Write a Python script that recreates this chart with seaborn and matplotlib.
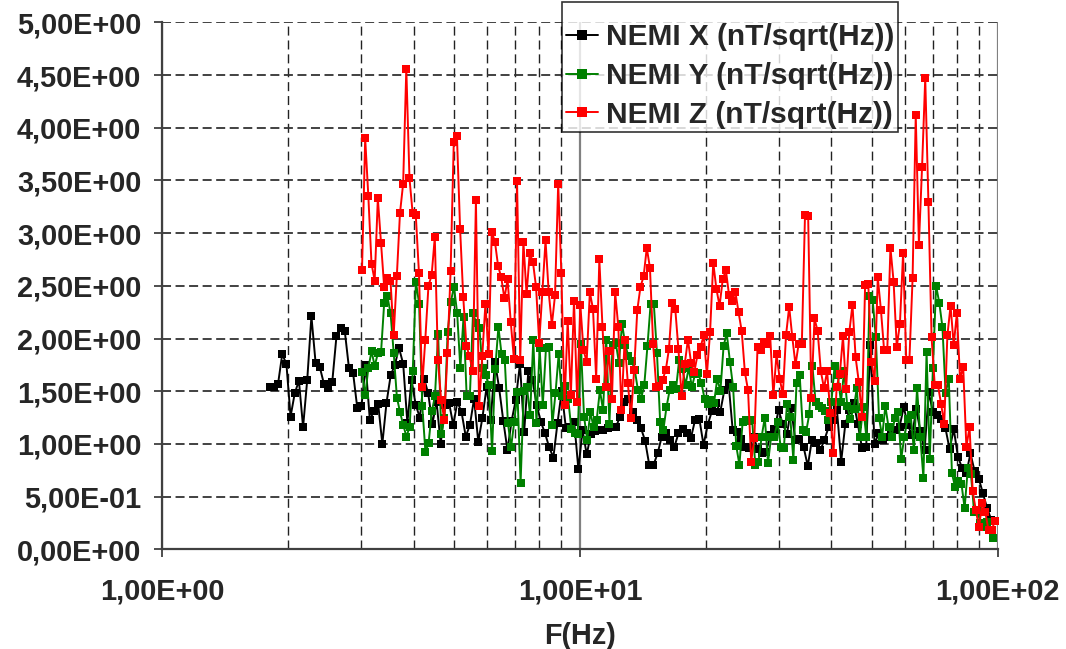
import numpy as np
import pandas as pd
import matplotlib
matplotlib.use('Agg')
import matplotlib.pyplot as plt
from matplotlib.ticker import FixedLocator, NullFormatter
import seaborn as sns

# NEMI values (nT/sqrt(Hz)), samples are evenly spaced in log(f)
nemi_x = [
    1.54, 1.54, 1.57, 1.85, 1.76, 1.26, 1.48, 1.60, 1.16, 1.61,
    2.21, 1.77, 1.73, 1.57, 1.53, 1.59, 2.02, 2.10, 2.07, 1.72,
    1.67, 1.34, 1.36, 1.75, 1.23, 1.31, 1.38, 1.00, 1.39, 1.65,
    1.75, 1.91, 1.76, 1.20, 1.61, 1.37, 1.25, 1.62, 1.48, 1.19,
    1.40, 1.00, 1.37, 1.39, 1.18, 1.40, 1.30, 1.07, 1.18, 1.43,
    1.02, 1.25, 1.54, 1.23, 1.78, 1.53, 1.22, 0.94, 1.22, 1.42,
    1.76, 1.11, 1.69, 1.61, 1.37, 1.21, 1.10, 0.97, 0.87, 1.20,
    1.50, 1.15, 1.16, 1.21, 0.76, 1.13, 0.90, 1.09, 1.12, 1.13,
    1.13, 1.15, 1.16, 1.16, 1.26, 1.40, 1.43, 1.30, 1.23, 1.15,
    1.03, 0.80, 0.80, 0.91, 1.07, 1.10, 1.04, 0.97, 1.10, 1.14,
    1.10, 1.06, 1.23, 1.24, 0.99, 1.18, 1.31, 1.39, 1.30, 1.51,
    1.58, 1.13, 1.11, 1.05, 0.97, 0.96, 1.07, 0.95, 0.91, 0.92,
    1.08, 1.14, 1.32, 1.19, 1.09, 1.34, 1.04, 1.05, 0.97, 0.79,
    1.04, 1.01, 0.94, 1.04, 1.16, 1.23, 1.32, 0.83, 1.19, 1.32,
    1.39, 1.19, 0.96, 0.97, 1.94, 1.00, 1.10, 1.04, 1.07, 1.10,
    1.13, 1.16, 1.35, 1.18, 1.08, 1.33, 1.12, 0.94, 1.49, 1.30,
    1.27, 1.24, 1.15, 0.95, 1.14, 0.88, 0.77, 0.72, 0.91, 0.74,
    0.67, 0.53, 0.39, 0.28,
]
nemi_y = [
    1.68, 1.46, 1.72, 1.88, 1.74, 1.86, 1.87, 2.34, 2.40, 2.24,
    1.86, 1.44, 1.30, 1.18, 1.07, 1.16, 1.69, 2.54, 2.33, 1.36,
    0.92, 1.01, 1.31, 1.45, 2.04, 1.09, 1.25, 2.06, 2.35, 2.49,
    2.24, 1.72, 2.20, 1.45, 1.45, 2.24, 2.15, 2.10, 1.72, 1.65,
    1.56, 0.93, 1.71, 2.11, 1.85, 1.80, 1.20, 0.97, 1.21, 1.49,
    0.63, 1.50, 1.54, 1.27, 1.99, 1.20, 1.91, 1.37, 1.91, 1.92,
    1.18, 1.48, 1.85, 1.45, 1.55, 1.43, 1.14, 1.10, 1.09, 1.95,
    1.26, 1.04, 1.30, 1.16, 1.23, 1.51, 1.32, 1.99, 1.19, 1.94,
    1.96, 1.77, 2.14, 1.94, 1.83, 1.79, 1.70, 1.51, 1.43, 1.56,
    1.93, 2.33, 2.33, 1.86, 1.21, 1.13, 1.35, 1.51, 1.56, 1.52,
    1.80, 1.71, 1.56, 1.72, 1.54, 1.66, 1.67, 1.58, 1.43, 1.38,
    1.42, 1.39, 1.62, 1.50, 1.93, 2.05, 1.78, 1.54, 0.98, 0.80,
    1.21, 1.23, 1.22, 1.23, 0.80, 0.83, 1.07, 1.25, 0.82, 1.07,
    1.07, 1.21, 0.97, 0.96, 1.38, 1.26, 0.85, 1.58, 1.65, 1.13,
    1.11, 1.28, 1.74, 1.40, 1.36, 1.34, 1.31, 1.23, 1.40, 1.74,
    1.65, 1.40, 1.69, 1.36, 1.24, 1.33, 1.53, 1.07, 1.35, 1.07,
    2.40, 2.37, 2.01, 1.25, 1.07, 1.36, 1.16, 1.07, 1.25, 1.30,
    0.86, 1.07, 1.24, 1.27, 0.94, 1.53, 1.07, 0.68, 1.87, 0.86,
    1.72, 2.50, 2.34, 2.11, 1.48, 1.62, 0.72, 0.59, 0.65, 0.62,
    0.39, 0.77, 0.71, 0.35, 0.37, 0.25, 0.21, 0.26, 0.18, 0.11,
]
nemi_z = [
    2.65, 3.90, 3.35, 2.71, 2.55, 3.33, 2.91, 2.49, 2.57, 2.55,
    2.03, 2.59, 3.19, 3.47, 4.56, 3.52, 3.19, 3.17, 2.62, 1.54,
    1.99, 2.50, 2.60, 2.96, 1.80, 1.42, 1.23, 1.86, 2.64, 3.86,
    3.92, 3.04, 2.39, 1.93, 1.83, 1.69, 3.31, 1.36, 1.83, 2.33,
    1.85, 3.01, 2.92, 2.69, 2.58, 2.38, 2.56, 2.16, 1.81, 3.49,
    1.80, 2.92, 2.42, 2.81, 2.73, 2.49, 1.96, 2.44, 2.93, 2.44,
    2.13, 2.41, 3.47, 2.62, 1.37, 2.17, 1.46, 2.36, 1.40, 2.32,
    1.89, 1.78, 2.44, 2.28, 1.62, 2.75, 2.11, 1.54, 1.88, 1.43,
    2.44, 2.11, 1.32, 1.99, 1.58, 1.25, 1.70, 2.27, 2.49, 2.59,
    2.86, 2.67, 1.95, 1.54, 1.55, 1.61, 1.70, 1.90, 2.34, 2.28,
    1.90, 1.45, 1.76, 1.99, 1.77, 1.68, 1.84, 1.92, 2.03, 1.66,
    2.06, 2.72, 2.47, 2.31, 2.56, 2.65, 2.41, 2.36, 2.44, 2.25,
    2.07, 1.68, 1.51, 0.83, 1.06, 1.92, 1.89, 1.97, 1.95, 2.02,
    1.46, 1.85, 1.62, 1.47, 2.03, 2.30, 2.01, 1.75, 1.95, 1.95,
    3.17, 3.16, 1.44, 2.19, 2.07, 1.69, 1.53, 1.69, 1.29, 0.91,
    1.54, 1.66, 2.02, 1.52, 2.06, 2.32, 1.82, 1.59, 1.26, 2.51,
    2.52, 1.78, 1.60, 2.58, 2.27, 1.89, 1.89, 2.86, 2.54, 1.92,
    2.14, 2.81, 1.80, 1.80, 2.57, 4.12, 2.89, 3.63, 4.47, 3.30,
    2.01, 1.56, 1.56, 1.38, 1.19, 2.03, 2.31, 1.94, 2.24, 1.62,
    1.73, 0.97, 1.16, 0.55, 0.37, 0.21, 0.44, 0.35, 0.18, 0.18,
    0.27,
]

# first / last sample frequency of each trace (Hz)
f_range = {"x": (1.81, 96.5), "y": (3.01, 97.5), "z": (3.01, 98.4)}

labels = ["NEMI X (nT/sqrt(Hz))", "NEMI Y (nT/sqrt(Hz))", "NEMI Z (nT/sqrt(Hz))"]
colors = ["#000000", "#008000", "#FF0000"]

frames = []
for key, vals, lab in zip(["x", "y", "z"], [nemi_x, nemi_y, nemi_z], labels):
    f0, f1 = f_range[key]
    frames.append(pd.DataFrame({"F": np.geomspace(f0, f1, len(vals)),
                                "NEMI": vals, "serie": lab}))
df = pd.concat(frames, ignore_index=True)

sns.set_style("white")
plt.rcParams['font.family'] = ['Liberation Sans', 'DejaVu Sans']
plt.rcParams['font.weight'] = 'bold'
fs = 20.8

fig = plt.figure(figsize=(10.66, 6.49), dpi=100)
ax = fig.add_axes([0.152, 0.1536, 0.784, 0.812])

ax = sns.lineplot(data=df, x="F", y="NEMI", hue="serie", palette=colors,
                  hue_order=labels, estimator=None, sort=False, marker="s",
                  markersize=6.3, markeredgewidth=0, linewidth=1.4, ax=ax)

ax.set_xscale("log")
ax.set_xlim(1, 100)
ax.set_ylim(0, 5)

ax.xaxis.set_major_locator(FixedLocator([1, 10, 100]))
ax.set_xticklabels(["1,00E+00", "1,00E+01", "1,00E+02"])
ax.xaxis.set_minor_locator(FixedLocator([2, 3, 4, 5, 6, 7, 8, 9,
                                         20, 30, 40, 50, 60, 70, 80, 90]))
ax.xaxis.set_minor_formatter(NullFormatter())
yt = np.arange(0, 5.01, 0.5)
ax.set_yticks(yt)
ax.set_yticklabels([("%.2E" % v).replace(".", ",") for v in yt])

ax.grid(False)
ax.yaxis.grid(True, which="major", color="#333333", lw=1.3, ls=(0, (5, 2.5)))
ax.xaxis.grid(True, which="minor", color="#222222", lw=1.0, ls=(0, (6.5, 3.5)))
ax.xaxis.grid(True, which="major", color="#808080", lw=1.6, ls="-")
ax.set_axisbelow(True)

for s in ["top", "right"]:
    ax.spines[s].set_visible(False)
for s in ["left", "bottom"]:
    ax.spines[s].set_color("#404040")
    ax.spines[s].set_linewidth(1.6)

ax.tick_params(axis="y", which="major", direction="out", length=6, width=1.3,
               color="#404040", labelsize=fs, pad=9, left=True)
ax.tick_params(axis="x", which="major", direction="out", length=6, width=1.3,
               color="#404040", labelsize=fs, pad=14, bottom=True)
ax.tick_params(axis="x", which="minor", length=0)
for t in ax.get_xticklabels() + ax.get_yticklabels():
    t.set_fontweight("bold")

ax.set_xlabel("F(Hz)", fontsize=fs, fontweight="bold", labelpad=12)
ax.set_ylabel("")

leg = ax.legend(loc="upper left", bbox_to_anchor=(562 / 1066, 1 - 2 / 649),
                bbox_transform=fig.transFigure, frameon=True, fancybox=False,
                fontsize=21.5, borderpad=0.12, labelspacing=0.36,
                handlelength=1.1, handletextpad=0.25, borderaxespad=0,
                markerscale=1.15, title=" ", title_fontsize=6)
leg.get_frame().set_edgecolor("black")
leg.get_frame().set_linewidth(1.2)
for t in leg.get_texts():
    t.set_fontweight("bold")

fig.savefig("out.png", dpi=100)
